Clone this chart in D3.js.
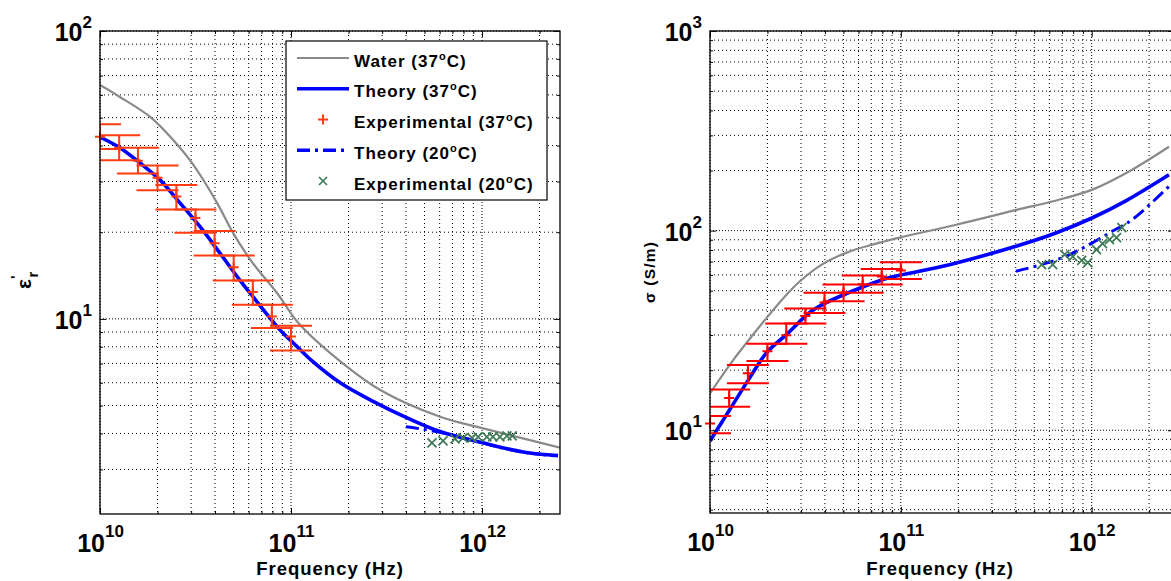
<!DOCTYPE html>
<meta charset="utf-8">
<head>
  <title>Permittivity and conductivity vs frequency</title>
</head>

<style>
body { margin: 0; background: #fff; }
svg { display: block; }
text {
  font-family: Arial, "Liberation Sans", Helvetica, sans-serif;
  font-weight: bold;
  fill: #000;
}
.grid line { stroke: #000; stroke-width: 1; stroke-dasharray: 1,3; }
.grid line.major { stroke-dasharray: 1,2; }
</style>

<body>
  <svg width="1171" height="581"></svg>

  <script src="https://cdnjs.cloudflare.com/ajax/libs/d3/7.8.5/d3.min.js"></script>
  <script>
// ---- experimental points at 37 C (both panels share the frequencies)
var expFreq = [1e10, 1.26e10, 1.58e10, 2.0e10, 2.51e10, 3.16e10, 3.98e10, 5.01e10, 6.31e10, 7.94e10, 1e11];
var epsExp   = [42.9, 39.3, 35.4, 30.9, 26.6, 22.4, 18.3, 15.1, 12.4, 10.2, 8.68];
var epsExpLo = [38.9, 35.6, 32.0, 28.0, 24.0, 19.9, 16.6, 13.6, 11.2, 9.29, 7.76];
var epsExpHi = [47.4, 43.4, 39.3, 34.1, 29.2, 24.0, 20.2, 16.6, 13.6, 11.2, 9.46];
var sigExp   = [10.8, 14.5, 19.3, 24.9, 29.9, 37.3, 43.7, 49.0, 53.7, 58.9, 63.1];
var sigExpLo = [9.66, 13.1, 17.2, 22.2, 27.1, 34.3, 38.7, 44.3, 48.8, 53.7, 57.3];
var sigExpHi = [11.8, 16.0, 21.2, 27.1, 34.3, 40.7, 48.8, 53.7, 59.6, 64.3, 69.4];

// ---- experimental points at 20 C
var exp20Freq = [5.47e11, 6.25e11, 7.22e11, 7.96e11, 8.87e11, 9.54e11, 1.06e12, 1.14e12, 1.24e12, 1.35e12, 1.44e12];
var epsExp20  = [3.71, 3.77, 3.83, 3.86, 3.86, 3.89, 3.89, 3.89, 3.89, 3.92, 3.92];
var sigExp20  = [67.6, 67.6, 75.9, 74.1, 71.0, 69.2, 80.4, 86.0, 90.2, 92.3, 103.5];

// ---- water (37 C)
var waterEpsFreq = [1e10, 1.27e10, 1.83e10, 2.41e10, 3.03e10, 4.10e10, 4.97e10, 6.32e10, 8.45e10, 1.09e11, 1.60e11, 2.92e11, 6.03e11, 9.77e11, 2.56e12];
var waterEps     = [64.9, 59.0, 50.3, 41.9, 34.8, 25.3, 19.9, 15.6, 12.3, 9.69, 7.62, 5.67, 4.57, 4.19, 3.57];
var waterSigFreq = [1e10, 1.32e10, 1.62e10, 2.01e10, 2.47e10, 2.95e10, 3.85e10, 5.20e10, 7.11e10, 9.84e10, 1.95e11, 4.03e11, 6.21e11, 1e12, 1.63e12, 2.54e12];
var waterSig     = [15.3, 22.4, 28.8, 37.2, 46.8, 55.6, 67.6, 77.6, 85.1, 92.3, 107, 127, 140, 160, 202, 263];

// ---- theory (37 C)
var theoryEpsFreq = [1e10, 1.27e10, 1.62e10, 2.06e10, 2.62e10, 3.34e10, 4.25e10, 5.41e10, 6.10e10, 8.75e10, 1.0e11, 1.09e11, 1.27e11, 1.81e11, 2.69e11, 4.05e11, 6.03e11, 1.01e12, 1.64e12, 2.50e12];
var theoryEps     = [42.8, 39.3, 34.8, 30.4, 25.3, 20.9, 16.9, 13.6, 12.3, 9.16, 8.39, 7.94, 7.21, 6.00, 5.17, 4.53, 4.06, 3.71, 3.45, 3.35];
var theorySigFreq = [1e10, 1.27e10, 1.62e10, 1.98e10, 2.52e10, 3.33e10, 3.90e10, 5.85e10, 8.73e10, 1.25e11, 1.95e11, 4.01e11, 6.49e11, 1.01e12, 1.51e12, 2.54e12];
var theorySig     = [8.84, 12.7, 18.4, 24.5, 30.2, 38.9, 42.7, 50.7, 58.2, 62.6, 68.9, 83.5, 97.3, 116, 141, 190.5];

// ---- theory (20 C)
var theory20EpsFreq = [4.0e11, 6.0e11, 1.0e12, 1.6e12, 2.5e12];
var theory20Eps     = [4.22, 4.04, 3.71, 3.45, 3.34];
var theory20SigFreq = [4.01e11, 5.31e11, 7.33e11, 9.70e11, 1.28e12, 1.63e12, 2.54e12];
var theory20Sig     = [62.6, 67.1, 74.4, 85.1, 99.2, 113.5, 166.5];

// ---- legend
var legendNames = ['Water', 'Theory', 'Experimental', 'Theory', 'Experimental'];
var legendTemps = ['37', '37', '37', '20', '20'];

var GRAY = '#8a8a8a', BLUE = '#0000ff', GREEN = '#3d7a55';
var capDecades = 0.11;

var svg = d3.select('svg');

function isMajor(v) {
  var l = Math.log10(v);
  return Math.abs(l - Math.round(l)) < 1e-6;
}

function cross(sel, cx, cy, r) {
  return sel.append('path')
    .attr('d', 'M' + (cx - r) + ',' + (cy - r) + 'l' + 2 * r + ',' + 2 * r +
               'M' + (cx - r) + ',' + (cy + r) + 'l' + 2 * r + ',' + (-2 * r))
    .attr('stroke', GREEN).attr('stroke-width', 1.7);
}

function panel(o) {
  var x = d3.scaleLog().domain(o.xDomain).range([o.left, o.right]);
  var y = d3.scaleLog().domain(o.yDomain).range([o.bottom, o.top]);
  var g = svg.append('g');

  svg.append('clipPath').attr('id', 'clip' + o.id)
    .append('rect')
    .attr('x', o.left).attr('y', o.top)
    .attr('width', o.right - o.left).attr('height', o.bottom - o.top);

  var xt = x.ticks(), yt = y.ticks();

  // dotted grid
  var grid = g.append('g').attr('class', 'grid');
  grid.selectAll('line.v').data(xt).enter().append('line')
    .attr('class', function(d) { return isMajor(d) ? 'v major' : 'v'; })
    .attr('x1', function(d) { return x(d); }).attr('x2', function(d) { return x(d); })
    .attr('y1', o.top).attr('y2', o.bottom);
  grid.selectAll('line.h').data(yt).enter().append('line')
    .attr('class', function(d) { return isMajor(d) ? 'h major' : 'h'; })
    .attr('y1', function(d) { return y(d); }).attr('y2', function(d) { return y(d); })
    .attr('x1', o.left).attr('x2', o.right);

  // curves
  var plot = g.append('g').attr('clip-path', 'url(#clip' + o.id + ')');
  var line = d3.line()
    .x(function(d) { return x(d[0]); })
    .y(function(d) { return y(d[1]); })
    .curve(d3.curveCatmullRom.alpha(0.5));

  plot.append('path').attr('d', line(d3.zip(o.waterF, o.waterV)))
    .attr('fill', 'none').attr('stroke', GRAY).attr('stroke-width', 2.2);
  plot.append('path').attr('d', line(d3.zip(o.theoryF, o.theoryV)))
    .attr('fill', 'none').attr('stroke', BLUE).attr('stroke-width', 3.6);

  // error bars
  var k = Math.pow(10, capDecades);
  var eb = plot.append('g').attr('stroke', o.red).attr('stroke-width', 2);
  o.expF.forEach(function(f, i) {
    var cx = x(f);
    eb.append('line').attr('x1', cx).attr('x2', cx)
      .attr('y1', y(o.expLo[i])).attr('y2', y(o.expHi[i]));
    [o.expLo[i], o.expHi[i]].forEach(function(v) {
      eb.append('line').attr('x1', x(f / k)).attr('x2', x(f * k))
        .attr('y1', y(v)).attr('y2', y(v));
    });
  });

  plot.append('path').attr('d', line(d3.zip(o.theory20F, o.theory20V)))
    .attr('fill', 'none').attr('stroke', BLUE).attr('stroke-width', 3)
    .attr('stroke-dasharray', '13,5,3,5');

  // markers (not clipped)
  var mk = g.append('g');
  o.expF.forEach(function(f, i) {
    var cx = x(f), cy = y(o.expV[i]);
    mk.append('path').attr('d', 'M' + (cx - 5) + ',' + cy + 'h10M' + cx + ',' + (cy - 5) + 'v10')
      .attr('stroke', o.red).attr('stroke-width', 2);
  });
  o.exp20F.forEach(function(f, i) {
    cross(mk, x(f), y(o.exp20V[i]), 4.5);
  });

  // axes box
  g.append('rect').attr('x', o.left).attr('y', o.top)
    .attr('width', o.right - o.left).attr('height', o.bottom - o.top)
    .attr('fill', 'none').attr('stroke', '#000').attr('stroke-width', 1.3);

  var xMinor = xt.filter(function(d) { return !isMajor(d); });
  var xMajor = xt.filter(isMajor);
  var yMinor = yt.filter(function(d) { return !isMajor(d); });
  var yMajor = yt.filter(isMajor);

  function noDomain(s) { s.select('.domain').remove(); }

  g.append('g').attr('transform', 'translate(0,' + o.bottom + ')')
    .call(d3.axisBottom(x).tickValues(xMinor).tickSize(-3).tickFormat('')).call(noDomain);
  g.append('g').attr('transform', 'translate(0,' + o.top + ')')
    .call(d3.axisTop(x).tickValues(xMinor).tickSize(-3).tickFormat('')).call(noDomain);
  g.append('g').attr('transform', 'translate(0,' + o.top + ')')
    .call(d3.axisTop(x).tickValues(xMajor).tickSize(-6).tickFormat('')).call(noDomain);
  g.append('g').attr('transform', 'translate(' + o.left + ',0)')
    .call(d3.axisLeft(y).tickValues(yMinor).tickSize(-3).tickFormat('')).call(noDomain);
  g.append('g').attr('transform', 'translate(' + o.right + ',0)')
    .call(d3.axisRight(y).tickValues(yMinor).tickSize(-3).tickFormat('')).call(noDomain);
  g.append('g').attr('transform', 'translate(' + o.right + ',0)')
    .call(d3.axisRight(y).tickValues(yMajor).tickSize(-6).tickFormat('')).call(noDomain);

  function powLabel(sel, supDy) {
    sel.selectAll('.tick text').each(function(d) {
      var t = d3.select(this);
      t.text(null);
      t.append('tspan').text('10');
      t.append('tspan').attr('dy', supDy).attr('font-size', 17)
        .text(Math.round(Math.log10(d)));
    });
  }

  var xb = g.append('g').attr('transform', 'translate(0,' + o.bottom + ')')
    .call(d3.axisBottom(x).tickValues(xMajor).tickSize(-6).tickFormat(function(d) { return d; }))
    .call(noDomain)
    .attr('font-family', null).attr('font-size', 25);
  xb.selectAll('.tick text').attr('y', 38).attr('dy', null);
  powLabel(xb, -15);

  var yl = g.append('g').attr('transform', 'translate(' + o.left + ',0)')
    .call(d3.axisLeft(y).tickValues(yMajor).tickSize(-6).tickFormat(function(d) { return d; }))
    .call(noDomain)
    .attr('font-family', null).attr('font-size', 25);
  yl.selectAll('.tick text').attr('x', -8).attr('y', 9.5).attr('dy', null);
  powLabel(yl, -13);

  g.selectAll('.tick line').attr('stroke', '#000');

  // x title
  g.append('text')
    .attr('x', (o.left + Math.min(o.right, 1170)) / 2).attr('y', 575)
    .attr('text-anchor', 'middle').attr('font-size', 18.5)
    .attr('letter-spacing', 1)
    .text('Frequency (Hz)');

  return { x: x, y: y, g: g };
}

var left = panel({
  id: 'L', left: 100, right: 560, top: 31, bottom: 514,
  xDomain: [1e10, 2.56e12], yDomain: [2.1, 100],
  red: '#ff3c14',
  waterF: waterEpsFreq, waterV: waterEps,
  theoryF: theoryEpsFreq, theoryV: theoryEps,
  theory20F: theory20EpsFreq, theory20V: theory20Eps,
  expF: expFreq, expV: epsExp, expLo: epsExpLo, expHi: epsExpHi,
  exp20F: exp20Freq, exp20V: epsExp20
});

var right = panel({
  id: 'R', left: 710, right: 1174, top: 31, bottom: 513,
  xDomain: [1e10, 2.7e12], yDomain: [3.85, 1000],
  red: '#ff0000',
  waterF: waterSigFreq, waterV: waterSig,
  theoryF: theorySigFreq, theoryV: theorySig,
  theory20F: theory20SigFreq, theory20V: theory20Sig,
  expF: expFreq, expV: sigExp, expLo: sigExpLo, expHi: sigExpHi,
  exp20F: exp20Freq, exp20V: sigExp20
});

// y titles
var yt1 = svg.append('text')
  .attr('transform', 'translate(31,289) rotate(-90)')
  .attr('font-size', 21).attr('font-weight', 'normal');
yt1.append('tspan').text('\u03b5');
yt1.append('tspan').attr('dy', -10).attr('font-size', 15).text("'");
yt1.append('tspan').attr('dx', -2).attr('dy', 17).attr('font-size', 15).text('r');

svg.append('text')
  .attr('transform', 'translate(655,272) rotate(-90)')
  .attr('text-anchor', 'middle').attr('font-size', 15.5)
  .attr('letter-spacing', 1.2)
  .text('\u03c3 (S/m)');

// legend
var lg = svg.append('g');
lg.append('rect').attr('x', 286).attr('y', 41).attr('width', 261).attr('height', 159)
  .attr('fill', '#fff').attr('stroke', '#000').attr('stroke-width', 1.2);

legendNames.forEach(function(name, i) {
  var cy = 58 + i * 30.75;
  if (i === 0 || i === 1 || i === 3) {
    var ln = lg.append('line').attr('x1', 297).attr('x2', 349).attr('y1', cy).attr('y2', cy)
      .attr('stroke', i === 0 ? GRAY : BLUE).attr('stroke-width', i === 0 ? 2.2 : 3.4);
    if (i === 3) ln.attr('stroke-dasharray', '13,5,3,5');
  } else if (i === 2) {
    lg.append('path').attr('d', 'M' + 318 + ',' + cy + 'h10M323,' + (cy - 5) + 'v10')
      .attr('stroke', '#ff3c14').attr('stroke-width', 2);
  } else {
    cross(lg, 323, cy, 4);
  }
  var t = lg.append('text').attr('x', 354).attr('y', cy + 8.5)
    .attr('font-size', 17).attr('letter-spacing', 1);
  t.append('tspan').text(name + ' (' + legendTemps[i]);
  t.append('tspan').attr('dy', -7).attr('font-size', 11).text('o');
  t.append('tspan').attr('dy', 7).text('C)');
});
  </script>
</body>
</html>
